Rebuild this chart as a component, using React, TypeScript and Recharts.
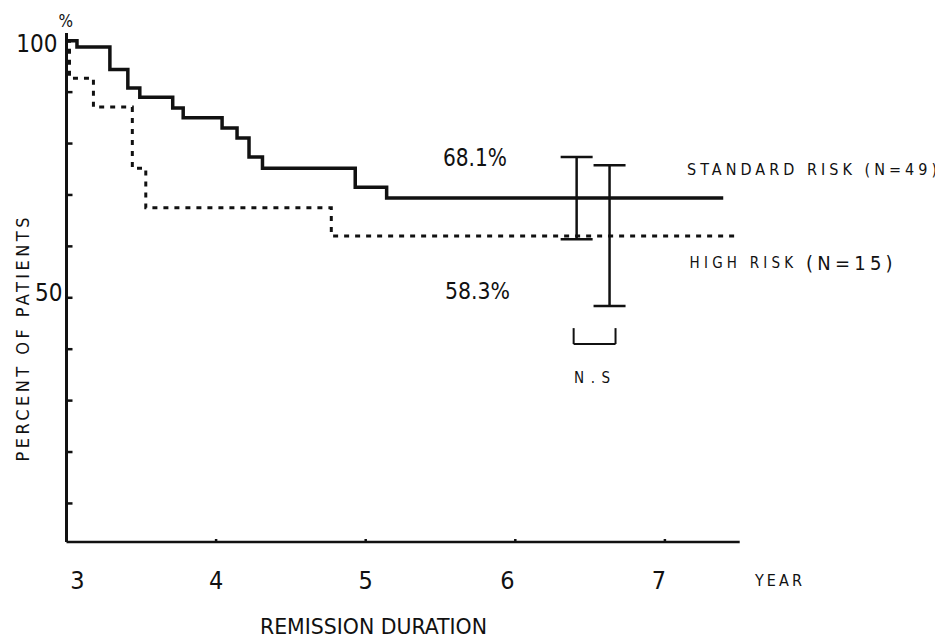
import React from "react";
import {
  ComposedChart,
  Line,
  XAxis,
  YAxis,
  Scatter,
  ErrorBar,
  ReferenceLine,
  ReferenceDot,
} from "recharts";

// ---- data ----
const standardYears = [3, 3.07, 3.29, 3.41, 3.49, 3.71, 3.78, 4.04, 4.14, 4.22, 4.31, 4.93, 5.14, 7.39];
const standardPct = [100, 98.8, 94.4, 90.8, 89.0, 86.9, 85.0, 83.0, 81.1, 77.4, 75.2, 71.5, 69.4, 69.4];

const highYears = [3, 3.02, 3.18, 3.44, 3.53, 4.77, 7.48];
const highPct = [100, 92.7, 87.1, 75.2, 67.5, 62.0, 62.0];

const ciYears = [6.41, 6.63];
const ciCenter = [69.4, 62.0];
const ciLowHigh = [
  [8.0, 8.0],
  [13.6, 13.8],
];

const xTicks = [3, 4, 5, 6, 7];
const yTicks = [10, 20, 30, 40, 50, 60, 70, 80, 90, 100];
const yTickLabels = [50, 100];

const nsBracketYears = [6.39, 6.67];
const nsBracketPct = [44.1, 41.0];

const annotationTexts = ["68.1%", "58.3%", "STANDARD RISK (N=49)", "HIGH RISK (N=15)", "N.S", "YEAR", "REMISSION DURATION", "%"];
const annotationYears = [5.73, 5.747, 7.148, 7.165, 6.513, 7.602, 5.052, 2.995];
const annotationPct = [77.2, 51.3, 75.0, 56.75, 34.4, -5.0, -13.9, 103.8];

// ---- build tables ----
const standardData = standardYears.map((x, i) => ({ x, y: standardPct[i] }));
const highData = highYears.map((x, i) => ({ x, y: highPct[i] }));
const ciData = ciYears.map((x, i) => ({ x, y: ciCenter[i], err: ciLowHigh[i] }));

const FONT = "'Liberation Sans Narrow','DejaVu Sans Condensed','Liberation Sans',sans-serif";
const COND = "'DejaVu Sans Condensed','DejaVu Sans',sans-serif";
const INK = "#111";

const annStyles: Record<string, any> = {
  "68.1%": { anchor: "middle", size: 24, len: 64, adj: "spacingAndGlyphs" },
  "58.3%": { anchor: "middle", size: 23, len: 65, adj: "spacingAndGlyphs" },
  "STANDARD RISK (N=49)": { anchor: "start", size: 16, len: 250, font: COND, adj: "spacing" },
  "HIGH RISK (N=15)": {
    anchor: "start",
    size: 15,
    len: 203,
    font: COND,
    adj: "spacing",
    parts: [
      ["HIGH RISK ", 15],
      ["(N=15)", 20],
    ],
  },
  "N.S": { anchor: "middle", size: 15, len: 36, font: COND, adj: "spacing" },
  YEAR: { anchor: "start", size: 16, len: 47, font: COND, adj: "spacing" },
  "REMISSION DURATION": { anchor: "middle", size: 22, len: 227, adj: "spacingAndGlyphs" },
  "%": { anchor: "middle", size: 17 },
};

const makeLabel = (text: string) => (props: any) => {
  const vb = props.viewBox || {};
  const cx = (vb.x ?? 0) + (vb.width ?? 0) / 2;
  const cy = (vb.y ?? 0) + (vb.height ?? 0) / 2;
  const st = annStyles[text] || { anchor: "middle", size: 16 };
  const extra: any = {};
  if (st.len) {
    extra.textLength = st.len;
    extra.lengthAdjust = st.adj || "spacing";
  }
  return (
    <text
      x={cx}
      y={cy}
      textAnchor={st.anchor}
      dominantBaseline="central"
      fontSize={st.size}
      fontFamily={st.font || FONT}
      fill={INK}
      {...extra}
    >
      {st.parts
        ? st.parts.map((p: any, i: number) => (
            <tspan key={i} fontSize={p[1]}>
              {p[0]}
            </tspan>
          ))
        : text}
    </text>
  );
};

const yLabelDy: Record<number, number> = { 100: 3, 50: -5 };
const yLabelDx: Record<number, number> = { 100: -9, 50: -4 };

const YTick = (props: any) => {
  const { x, y, payload } = props;
  const v = payload.value;
  return (
    <g>
      <line x1={x} y1={y} x2={x + 6} y2={y} stroke={INK} strokeWidth={2.5} />
      {yTickLabels.includes(v) && (
        <text
          x={x + (yLabelDx[v] || -6)}
          y={y + (yLabelDy[v] || 0)}
          textAnchor="end"
          dominantBaseline="central"
          fontSize={24}
          fontFamily={FONT}
          fill={INK}
        >
          {v}
        </text>
      )}
    </g>
  );
};

const xLabelShift: Record<number, number> = { 3: 11, 6: -8, 7: -6 };

const XTick = (props: any) => {
  const { x, y, payload } = props;
  const v = payload.value;
  return (
    <g>
      {v !== 3 && <line x1={x} y1={y} x2={x} y2={y - 3} stroke={INK} strokeWidth={2.5} />}
      <text
        x={x + (xLabelShift[v] || 0)}
        y={y + 38}
        textAnchor="middle"
        dominantBaseline="central"
        fontSize={25}
        fontFamily={FONT}
        fill={INK}
      >
        {v}
      </text>
    </g>
  );
};

const YAxisTitle = (props: any) => {
  const vb = props.viewBox || {};
  const x = (vb.x ?? 0) + (vb.width ?? 0) - 44;
  const y = (vb.y ?? 0) + (vb.height ?? 0) / 2 + 52;
  return (
    <text
      x={x}
      y={y}
      transform={`rotate(-90 ${x} ${y})`}
      textAnchor="middle"
      dominantBaseline="central"
      fontSize={18}
      fontFamily={COND}
      fill={INK}
      textLength={244}
      lengthAdjust="spacing"
    >
      PERCENT OF PATIENTS
    </text>
  );
};

export default function App() {
  return (
    <div style={{ background: "#fff", width: 935, height: 631 }}>
      <ComposedChart
        width={935}
        height={631}
        margin={{ top: 25, right: 203.3, bottom: 95, left: 56.5 }}
      >
        <XAxis
          type="number"
          dataKey="x"
          domain={[3, 7.5]}
          ticks={xTicks}
          allowDataOverflow
          height={2}
          tickSize={0}
          tickMargin={0}
          tickLine={false}
          axisLine={{ stroke: INK, strokeWidth: 2.5 }}
          tick={<XTick />}
          interval={0}
        />
        <YAxis
          type="number"
          dataKey="y"
          domain={[2.5, 101.5]}
          ticks={yTicks}
          allowDataOverflow
          width={2}
          tickSize={0}
          tickMargin={0}
          tickLine={false}
          axisLine={{ stroke: INK, strokeWidth: 3 }}
          tick={<YTick />}
          interval={0}
          label={{ content: <YAxisTitle /> }}
        />
        <Line
          data={highData}
          dataKey="y"
          type="stepAfter"
          stroke={INK}
          strokeWidth={3}
          strokeDasharray="5 6"
          dot={false}
          activeDot={false}
          isAnimationActive={false}
        />
        <Line
          data={standardData}
          dataKey="y"
          type="stepAfter"
          stroke={INK}
          strokeWidth={3.5}
          dot={false}
          activeDot={false}
          isAnimationActive={false}
        />
        <Scatter
          data={ciData}
          dataKey="y"
          shape={() => <g />}
          isAnimationActive={false}
        >
          <ErrorBar
            dataKey="err"
            direction="y"
            width={16}
            stroke={INK}
            strokeWidth={2.5}
            isAnimationActive={false}
          />
        </Scatter>
        <ReferenceLine
          segment={[
            { x: nsBracketYears[0], y: nsBracketPct[0] },
            { x: nsBracketYears[0], y: nsBracketPct[1] },
          ]}
          stroke={INK}
          strokeWidth={2}
          ifOverflow="visible"
        />
        <ReferenceLine
          segment={[
            { x: nsBracketYears[0], y: nsBracketPct[1] },
            { x: nsBracketYears[1], y: nsBracketPct[1] },
          ]}
          stroke={INK}
          strokeWidth={2}
          ifOverflow="visible"
        />
        <ReferenceLine
          segment={[
            { x: nsBracketYears[1], y: nsBracketPct[1] },
            { x: nsBracketYears[1], y: nsBracketPct[0] },
          ]}
          stroke={INK}
          strokeWidth={2}
          ifOverflow="visible"
        />
        {annotationTexts.map((t, i) => (
          <ReferenceDot
            key={t}
            x={annotationYears[i]}
            y={annotationPct[i]}
            r={1}
            fill="none"
            stroke="none"
            ifOverflow="visible"
            label={{ content: makeLabel(t) }}
          />
        ))}
      </ComposedChart>
    </div>
  );
}
